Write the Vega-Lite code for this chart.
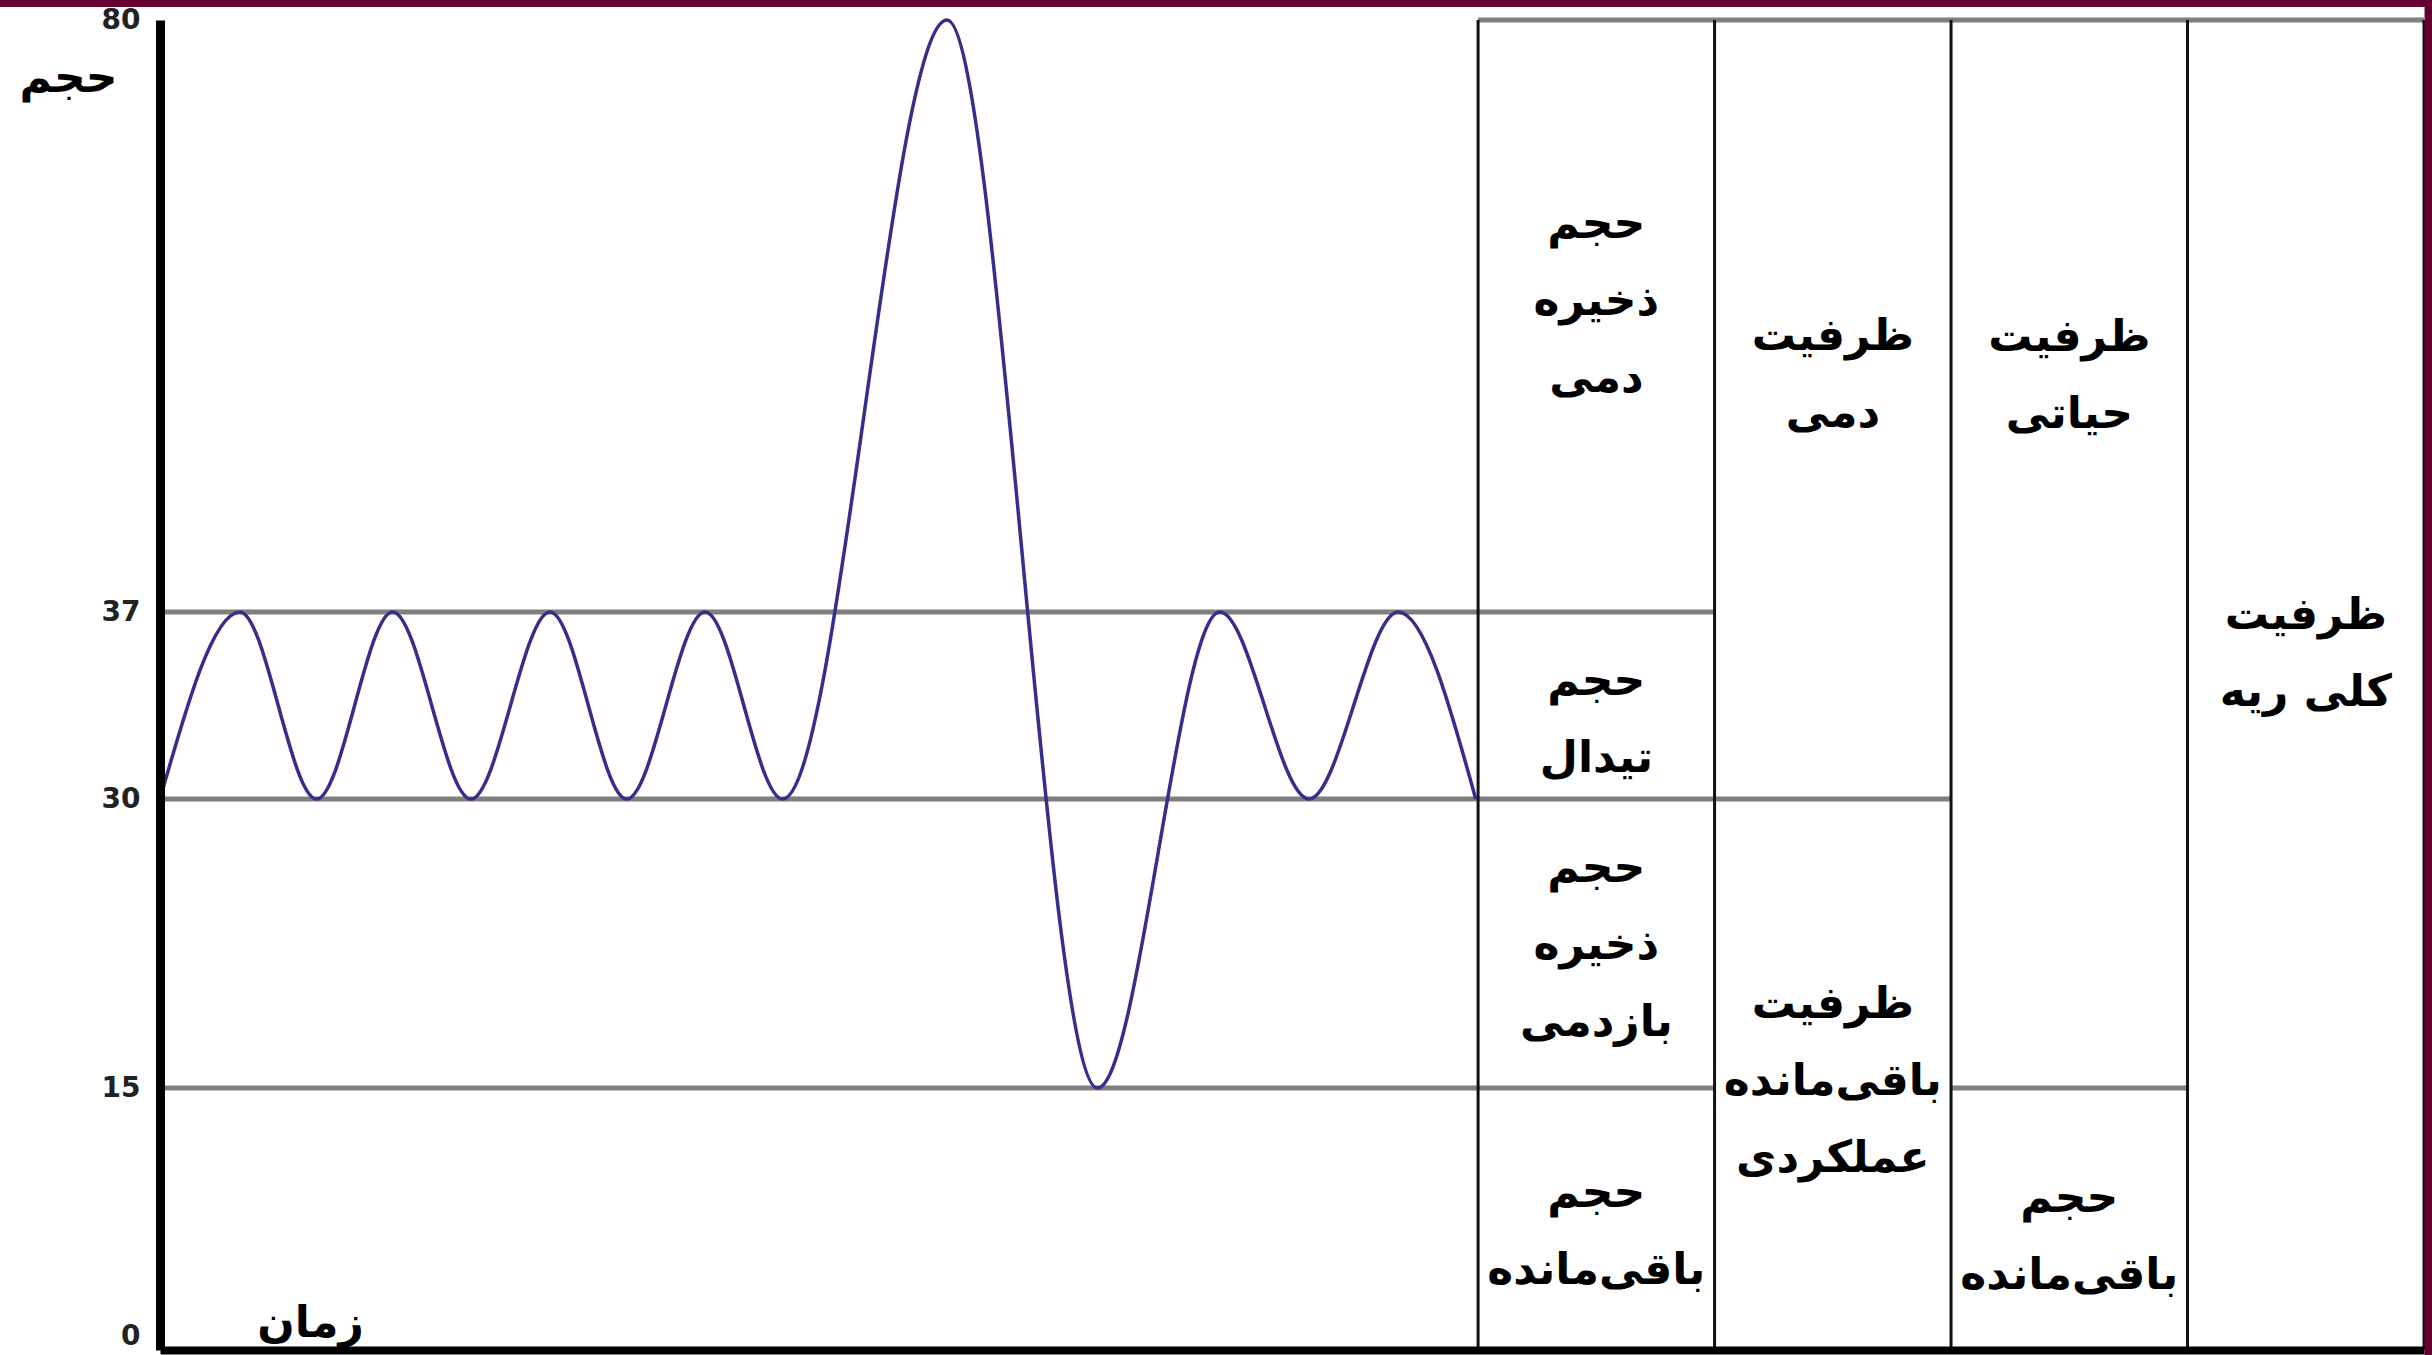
{
  "$schema": "https://vega.github.io/schema/vega-lite/v6.json",
  "width": 2264,
  "height": 1330,
  "autosize": {"type": "none"},
  "padding": {"left": 160, "top": 20, "right": 8, "bottom": 5},
  "background": "white",
  "config": {"view": {"stroke": null}, "font": "DejaVu Sans"},
  "datasets": {
    "wave": [
      {"t": 0, "v": 30}, {"t": 1.03, "v": 37}, {"t": 2.02, "v": 30}, {"t": 3.0, "v": 37},
      {"t": 4.01, "v": 30}, {"t": 5.03, "v": 37}, {"t": 6.02, "v": 30}, {"t": 7.03, "v": 37},
      {"t": 8.03, "v": 30}, {"t": 10.15, "v": 80}, {"t": 12.09, "v": 15}, {"t": 13.67, "v": 37},
      {"t": 14.82, "v": 30}, {"t": 15.97, "v": 37}, {"t": 16.97, "v": 30}
    ],
    "hlines": [
      {"t": 0, "t2": 20.05, "v": 37},
      {"t": 0, "t2": 23.1, "v": 30},
      {"t": 0, "t2": 20.05, "v": 15},
      {"t": 23.1, "t2": 26.15, "v": 15},
      {"t": 17, "t2": 29.2, "v": 80}
    ],
    "vlines": [
      {"t": 17, "v": 0, "v2": 80},
      {"t": 20.05, "v": 0, "v2": 80},
      {"t": 23.1, "v": 0, "v2": 80},
      {"t": 26.15, "v": 0, "v2": 80},
      {"t": 29.2, "v": 0, "v2": 80}
    ],
    "labels": [
      {"t": 18.525, "v": 65.1, "label": "حجم\nذخیره\nدمی"},
      {"t": 18.525, "v": 34.38, "label": "حجم\nتیدال"},
      {"t": 18.525, "v": 26.39, "label": "حجم\nذخیره\nبازدمی"},
      {"t": 18.525, "v": 8.93, "label": "حجم\nباقی\u200cمانده"},
      {"t": 21.575, "v": 57.0, "label": "ظرفیت\nدمی"},
      {"t": 21.575, "v": 19.31, "label": "ظرفیت\nباقی\u200cمانده\nعملکردی"},
      {"t": 24.625, "v": 56.9, "label": "ظرفیت\nحیاتی"},
      {"t": 24.625, "v": 8.64, "label": "حجم\nباقی\u200cمانده"},
      {"t": 27.675, "v": 36.86, "label": "ظرفیت\nکلی ریه"}
    ],
    "frame": [
      {"t": -2.2, "t2": 29.4, "v": 80.94, "v2": 81.7},
      {"t": 29.207, "t2": 29.4, "v": -0.5, "v2": 81.7}
    ]
  },
  "encoding": {
    "x": {
      "field": "t", "type": "quantitative",
      "scale": {"domain": [0, 29.2], "nice": false, "zero": false},
      "axis": {
        "title": "زمان", "labels": false, "ticks": false, "grid": false,
        "domainColor": "black", "domainWidth": 8, "zindex": 1,
        "titleX": 150, "titleY": -14, "titleAlign": "center", "titleBaseline": "alphabetic",
        "titleFont": "DejaVu Sans", "titleFontSize": 44, "titleFontWeight": "bold", "titleColor": "black"
      }
    },
    "y": {
      "field": "v", "type": "quantitative",
      "scale": {"domain": [0, 15, 30, 37, 80], "range": [1330, 1068, 779, 592, 0], "nice": false, "zero": false},
      "axis": {
        "values": [0, 15, 30, 37, 80], "title": "حجم", "titleAngle": 0,
        "titleX": -92, "titleY": 58, "titleAlign": "center", "titleBaseline": "middle",
        "titleFont": "DejaVu Sans", "titleFontSize": 44, "titleFontWeight": "bold", "titleColor": "black",
        "labelFont": "DejaVu Sans", "labelFontSize": 28, "labelFontWeight": "bold", "labelColor": "#222",
        "labelBaseline": {"condition": {"test": "datum.value === 0", "value": "bottom"}, "value": "middle"},
        "labelPadding": 20, "labelOverlap": false, "ticks": false, "grid": false,
        "domainColor": "black", "domainWidth": 9, "zindex": 1
      }
    }
  },
  "layer": [
    {
      "data": {"name": "hlines"},
      "mark": {"type": "rule", "color": "#7f7f7f", "strokeWidth": 5},
      "encoding": {"x2": {"field": "t2"}}
    },
    {
      "data": {"name": "vlines"},
      "mark": {"type": "rule", "color": "#111111", "strokeWidth": 3},
      "encoding": {"y2": {"field": "v2"}}
    },
    {
      "data": {"name": "wave"},
      "mark": {"type": "line", "interpolate": "monotone", "color": "#332f8a", "strokeWidth": 3.5},
      "encoding": {}
    },
    {
      "data": {"name": "labels"},
      "mark": {"type": "text", "align": "center", "baseline": "middle", "font": "DejaVu Sans", "fontSize": 44, "fontWeight": "bold", "lineBreak": "\n", "lineHeight": 77, "color": "black"},
      "encoding": {"text": {"field": "label"}}
    },
    {
      "data": {"name": "frame"},
      "mark": {"type": "rect", "color": "#660033"},
      "encoding": {"x2": {"field": "t2"}, "y2": {"field": "v2"}}
    }
  ]
}
